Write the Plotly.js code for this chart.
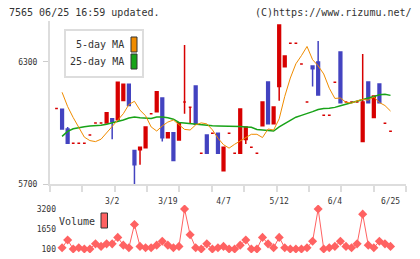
<!DOCTYPE html>
<html>
<head>
<meta charset="utf-8">
<script src="https://cdn.plot.ly/plotly-3.0.1.min.js"></script>
<style>
  html, body { margin: 0; padding: 0; background: #fff; }
  #chart { width: 420px; height: 259px; }
</style>
</head>
<body>
<div id="chart"></div>
<script>
// Daily prices (trading-day index 0..60)
const openP  = [6070,6067,5970,5900,5900,5900,5940,6000,6000,6000,6020,6015,6110,6190,5865,5868,5878,6045,6055,6122,5927,5952,5916,6103,6077,6181,5851,5941,5949,5949,5765,5949,5851,5851,5918,5880,5851,5986,6201,5996,6178,6276,6391,6391,6289,6102,6279,6299,6037,6037,6199,6348,6102,6102,6102,5908,6201,6026,6191,5998,5959];
const highP  = [6070,6067,5980,5900,5900,5900,5940,6000,6000,6050,6020,6200,6190,6190,5865,5880,5980,6045,6153,6122,5952,5952,6001,6382,6077,6181,5851,5941,5949,5949,5880,5949,5851,6068,5980,5880,5851,6103,6201,6078,6480,6328,6391,6391,6289,6102,6279,6402,6037,6037,6199,6348,6102,6102,6102,6338,6201,6132,6191,5998,5959];
const lowP   = [6070,5970,5900,5900,5900,5900,5940,6000,6000,6000,5920,6015,6110,6085,5700,5795,5878,6045,6055,5908,5927,5815,5916,6045,5998,5993,5851,5851,5949,5851,5765,5949,5851,5851,5896,5880,5851,5986,5996,5996,6109,6276,6391,6391,6289,6102,6178,6137,6037,6037,6199,6099,6102,6102,6102,5908,6099,6026,6099,5998,5959];
const closeP = [6070,5970,5900,5900,5900,5900,5940,6000,6000,6050,6005,6200,6190,6085,5795,5880,5980,6045,6153,5927,5952,5815,6001,6103,6077,5993,5851,5851,5949,5851,5880,5949,5851,6068,5980,5880,5851,6103,5996,6078,6480,6328,6391,6391,6289,6102,6266,6137,6037,6037,6199,6099,6102,6102,6102,6102,6099,6132,6099,5998,5959];

// Moving averages and volume (index 1..60)
const ma5  = [6150,6080,6026,5976,5930,5913,5908,5920,5950,5985,6013,6045,6090,6106,6062,6035,5980,5960,5985,6004,6014,5992,5968,5965,5990,6000,5995,5966,5925,5893,5876,5895,5911,5931,5944,5944,5928,5970,5965,6020,6130,6220,6290,6330,6375,6310,6280,6240,6170,6120,6122,6101,6097,6108,6115,6112,6127,6100,6085,6058];
const ma25 = [5934,5958,5971,5977,5981,5985,5986,5988,5993,6000,6006,6014,6024,6029,6025,6023,6022,6029,6029,6025,6018,6002,5999,5998,5995,5993,5988,5986,5985,5985,5985,5985,5982,5980,5978,5968,5965,5963,5960,5980,5996,6015,6028,6037,6045,6055,6066,6071,6072,6076,6084,6091,6099,6106,6115,6122,6129,6138,6140,6135];
const volume = [200,800,100,200,100,100,500,300,500,500,1000,400,200,2000,300,200,200,400,700,400,200,300,3200,1200,200,100,500,100,200,300,100,100,400,800,100,100,1000,500,200,1000,200,100,100,100,200,700,3200,100,200,300,700,300,200,500,2800,400,200,700,500,300];

// Axis labels
const tickDays   = [10, 20, 30, 40, 50, 60];
const tickLabels = ['3/2', '3/19', '4/7', '5/12', '6/4', '6/25'];
const priceTicks  = [5700, 6300];
const volumeTicks = [100, 1650, 3200];

const days = openP.map((_, i) => i);
const lineDays = days.slice(1);

const W = 420, H = 259;
const fx = px => px / W;
const fy = py => 1 - py / H;

const UP = '#d70000', DOWN = '#4343c0';
const MONO = 'DejaVu Sans Mono, monospace';
const TXT = '#333333';

function candles(sel, color) {
  const d = days.filter(sel);
  const style = { line: { color: color, width: 1.5 }, fillcolor: color };
  return {
    type: 'candlestick', xaxis: 'x', yaxis: 'y',
    x: d,
    open: d.map(i => openP[i]), high: d.map(i => highP[i]),
    low: d.map(i => lowP[i]), close: d.map(i => closeP[i]),
    increasing: style, decreasing: style,
    whiskerwidth: 0, showlegend: false, hoverinfo: 'skip'
  };
}

const traces = [
  candles(i => closeP[i] >= openP[i], UP),
  candles(i => closeP[i] < openP[i], DOWN),
  { type: 'scatter', mode: 'lines', x: lineDays, y: ma25, xaxis: 'x', yaxis: 'y',
    line: { color: '#18a318', width: 1.5 }, showlegend: false, hoverinfo: 'skip' },
  { type: 'scatter', mode: 'lines', x: lineDays, y: ma5, xaxis: 'x', yaxis: 'y',
    line: { color: '#f08c00', width: 1 }, showlegend: false, hoverinfo: 'skip' },
  { type: 'scatter', mode: 'lines+markers', x: lineDays, y: volume, xaxis: 'x2', yaxis: 'y2',
    line: { color: '#ff6262', width: 1 },
    marker: { symbol: 'diamond', size: 7, color: '#ff6262' },
    showlegend: false, hoverinfo: 'skip' }
];

const xRange = [-1.17, 62.78];
const tickFont = { family: MONO, size: 8, color: TXT };

const layout = {
  width: W, height: H,
  margin: { l: 0, r: 0, t: 0, b: 0 },
  paper_bgcolor: '#fff', plot_bgcolor: '#fff',
  showlegend: false,
  boxgap: 0.3,
  xaxis: {
    domain: [fx(50), fx(406)], range: xRange, anchor: 'y',
    tickmode: 'array', tickvals: tickDays, ticktext: tickLabels,
    ticks: '', showline: true, linecolor: '#dddddd', linewidth: 2,
    showgrid: false, zeroline: false, tickfont: tickFont, ticklabelstandoff: 8,
    rangeslider: { visible: false },
    minor: { tickmode: 'linear', tick0: xRange[0], dtick: (xRange[1] - xRange[0]) / 11,
             ticks: 'outside', ticklen: 6, tickwidth: 2, tickcolor: '#dddddd', showgrid: false }
  },
  yaxis: {
    domain: [fy(184), fy(21)], range: [5700, 6500], anchor: 'x',
    tickmode: 'array', tickvals: priceTicks,
    ticks: 'outside', ticklen: 5, tickwidth: 1, tickcolor: '#cccccc',
    showline: true, linecolor: '#dddddd', linewidth: 2,
    showgrid: false, zeroline: false, tickfont: tickFont, ticklabelstandoff: 4
  },
  xaxis2: {
    domain: [fx(50), fx(406)], range: xRange, anchor: 'y2', visible: false,
    rangeslider: { visible: false }
  },
  yaxis2: {
    domain: [fy(253), fy(205)], range: [-210, 3510], anchor: 'free', position: fx(56),
    tickmode: 'array', tickvals: volumeTicks, ticks: '',
    showline: false, showgrid: false, zeroline: false, tickfont: tickFont
  },
  shapes: [
    { type: 'rect', xref: 'paper', yref: 'paper', layer: 'above',
      x0: fx(65), x1: fx(143), y0: fy(77), y1: fy(30),
      line: { color: '#dddddd', width: 2 }, fillcolor: '#ffffff' },
    { type: 'rect', xref: 'paper', yref: 'paper', layer: 'above',
      x0: fx(131), x1: fx(137), y0: fy(52), y1: fy(37),
      line: { color: '#333', width: 1 }, fillcolor: '#f08c00' },
    { type: 'rect', xref: 'paper', yref: 'paper', layer: 'above',
      x0: fx(131), x1: fx(137), y0: fy(69), y1: fy(54),
      line: { color: '#333', width: 1 }, fillcolor: '#18a318' },
    { type: 'rect', xref: 'paper', yref: 'paper', layer: 'above',
      x0: fx(101), x1: fx(107.5), y0: fy(228), y1: fy(213),
      line: { color: '#333', width: 1 }, fillcolor: '#ff6262' }
  ],
  annotations: [
    { text: '7565 06/25 16:59 updated.', xref: 'paper', yref: 'paper',
      x: fx(7), y: fy(12), xanchor: 'left', yanchor: 'middle', showarrow: false,
      font: { family: MONO, size: 10, color: TXT } },
    { text: '(C)https://www.rizumu.net/', xref: 'paper', yref: 'paper',
      x: fx(414), y: fy(12), xanchor: 'right', yanchor: 'middle', showarrow: false,
      font: { family: MONO, size: 10, color: TXT } },
    { text: '5-day MA', xref: 'paper', yref: 'paper',
      x: fx(126), y: fy(45), xanchor: 'right', yanchor: 'middle', showarrow: false,
      font: { family: MONO, size: 10, color: TXT } },
    { text: '25-day MA', xref: 'paper', yref: 'paper',
      x: fx(126), y: fy(62), xanchor: 'right', yanchor: 'middle', showarrow: false,
      font: { family: MONO, size: 10, color: TXT } },
    { text: 'Volume', xref: 'paper', yref: 'paper',
      x: fx(57), y: fy(221), xanchor: 'left', yanchor: 'middle', showarrow: false,
      font: { family: MONO, size: 10, color: TXT } }
  ]
};

Plotly.newPlot('chart', traces, layout, { staticPlot: true, displayModeBar: false });
</script>
</body>
</html>
